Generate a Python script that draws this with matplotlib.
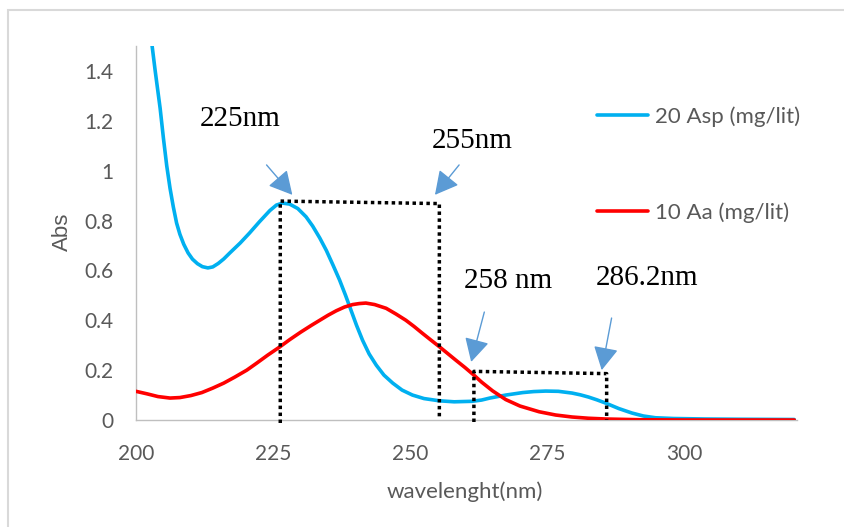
import matplotlib
matplotlib.use("Agg")
import matplotlib.pyplot as plt
from matplotlib.patches import Rectangle

# ---- data ----
x_blue = [202.6, 203.5, 204.4, 205.0, 205.6, 206.2, 206.8, 207.4, 208.0, 208.7, 209.5, 210.3,
          211.2, 212.1, 213.1, 214.0, 215.0, 216.0, 217.1, 219.0, 220.7, 222.5, 224.4, 225.6,
          226.7, 228.0, 229.5, 231.0, 232.2, 233.5, 234.7, 235.9, 237.1, 238.2, 239.2, 240.2,
          241.3, 242.5, 243.8, 245.2, 246.8, 248.5, 250.4, 252.5, 255.3, 258.0, 261.3, 263.0,
          264.5, 267.4, 270.5, 272.5, 274.7, 277.0, 279.5, 281.0, 282.5, 284.0, 285.6, 288.0,
          290.4, 292.5, 294.7, 298.0, 303.8, 310.0, 320.0]
y_blue = [1.56, 1.40, 1.25, 1.13, 1.02, 0.93, 0.855, 0.79, 0.745, 0.705, 0.67, 0.645,
          0.627, 0.615, 0.61, 0.614, 0.628, 0.646, 0.67, 0.71, 0.75, 0.795, 0.84, 0.862,
          0.87, 0.866, 0.848, 0.815, 0.778, 0.73, 0.68, 0.622, 0.562, 0.50, 0.44, 0.38,
          0.32, 0.265, 0.22, 0.18, 0.148, 0.12, 0.10, 0.086, 0.077, 0.073, 0.075, 0.08,
          0.088, 0.10, 0.11, 0.114, 0.116, 0.115, 0.108, 0.101, 0.092, 0.081, 0.068, 0.046,
          0.028, 0.016, 0.009, 0.006, 0.004, 0.003, 0.002]

x_red = [200, 202, 204, 206.2, 208, 210, 212, 214, 216, 218, 220.2, 222, 224, 226.2, 228, 230,
         232.0, 233.5, 235.0, 236.5, 238.0, 239.5, 240.7, 241.9, 243.5, 245.6, 247.4, 249.2,
         250.7, 252.2, 253.8, 255.3, 256.8, 258.3, 260.0, 261.6, 263.0, 265.0, 267.4, 270.0,
         273.5, 276.5, 279.5, 282.5, 285.6, 292, 300, 320]
y_red = [0.115, 0.105, 0.094, 0.088, 0.09, 0.098, 0.11, 0.128, 0.148, 0.172, 0.20, 0.228,
         0.26, 0.293, 0.322, 0.352, 0.38, 0.40, 0.42, 0.438, 0.453, 0.463, 0.467, 0.469,
         0.463, 0.448, 0.425, 0.40, 0.375, 0.348, 0.32, 0.294, 0.267, 0.24, 0.21, 0.18,
         0.152, 0.117, 0.082, 0.056, 0.033, 0.02, 0.012, 0.007, 0.004, 0.001, 0.0, 0.0]

series_labels = ["20 Asp (mg/lit)", "10 Aa (mg/lit)"]

guide1_x = [226.3, 226.3, 255.3, 255.3]
guide1_y = [-0.012, 0.878, 0.868, 0.01]
guide2_x = [261.6, 261.6, 285.8, 285.8]
guide2_y = [-0.008, 0.195, 0.186, 0.0]

peak_labels = ["225nm", "255nm", "258 nm", "286.2nm"]
label_pos = [(211.6, 1.179), (254.0, 1.091), (259.8, 0.529), (283.8, 0.541)]
arrow_tail = [(223.8, 1.023), (258.9, 1.023), (263.5, 0.433), (286.7, 0.409)]
arrow_head = [(228.5, 0.903), (254.5, 0.903), (261.1, 0.233), (284.9, 0.200)]

x_ticks = [200, 225, 250, 275, 300]
y_ticks = [0, 0.2, 0.4, 0.6, 0.8, 1.0, 1.2, 1.4]
y_ticklabels = ["0", "0.2", "0.4", "0.6", "0.8", "1", "1.2", "1.4"]

# ---- figure ----
W, H = 844, 527
fig = plt.figure(figsize=(W / 100, H / 100), dpi=100)
fig.patch.set_facecolor("white")
L, R, T, B = 136, 797, 46, 420
ax = fig.add_axes([L / W, 1 - B / H, (R - L) / W, (B - T) / H])

# outer chart frame
fig.patches.append(Rectangle((8 / W, -0.05), 1.2, (H - 10) / H + 0.05,
                             transform=fig.transFigure, fill=False,
                             ec="#d9d9d9", lw=1.5))

blue = "#00b0f0"
red = "#ff0000"
l1, = ax.plot(x_blue, y_blue, color=blue, lw=2.6, label=series_labels[0],
              solid_capstyle="round", solid_joinstyle="round", zorder=3)
l2, = ax.plot(x_red, y_red, color=red, lw=2.6, label=series_labels[1],
              solid_capstyle="round", solid_joinstyle="round", zorder=3)

for gx, gy in [(guide1_x, guide1_y), (guide2_x, guide2_y)]:
    ax.plot(gx, gy, color="black", lw=2.5, linestyle=(0, (1, 1)),
            dash_capstyle="butt", clip_on=False, zorder=4)

for txt, (tx, ty) in zip(peak_labels, label_pos):
    ax.text(tx, ty, txt, fontsize=21, family=["Liberation Serif", "DejaVu Serif"],
            ha="left", va="baseline", color="black", zorder=5)

for (x0, y0), (x1, y1) in zip(arrow_tail, arrow_head):
    ax.annotate("", xy=(x1, y1), xytext=(x0, y0),
                arrowprops=dict(arrowstyle="-|>,head_length=0.6,head_width=0.32",
                                color="#5b9bd5", lw=1.0, mutation_scale=24,
                                shrinkA=0, shrinkB=0), zorder=5)

ax.set_xlim(200, 320.5)
ax.set_ylim(0, 1.5)
ax.set_xticks(x_ticks)
ax.set_yticks(y_ticks)
ax.set_yticklabels(y_ticklabels)

tick_font = ["Lato", "DejaVu Sans"]
for lab in ax.get_xticklabels() + ax.get_yticklabels():
    lab.set_family(tick_font)
    lab.set_fontsize(15)
    lab.set_color("#595959")
ax.tick_params(axis="x", length=0, pad=17)
ax.tick_params(axis="y", length=0, pad=16)

for s in ["top", "right"]:
    ax.spines[s].set_visible(False)
for s in ["left", "bottom"]:
    ax.spines[s].set_color("#bfbfbf")
    ax.spines[s].set_linewidth(1.0)

ax.set_xlabel("wavelenght(nm)", fontsize=16, family=tick_font, color="#595959",
              va="center")
ax.xaxis.set_label_coords((465 - L) / (R - L), (B - 492) / (B - T))
ax.set_ylabel("Abs", fontsize=16, family=["Liberation Sans", "DejaVu Sans"],
              color="#595959", va="center")
ax.yaxis.set_label_coords((62 - L) / (R - L), (B - 232) / (B - T))

leg = ax.legend(handles=[l1, l2], loc="upper left",
                bbox_to_anchor=(597 / W, 1 - 106 / H),
                bbox_transform=fig.transFigure, frameon=False,
                borderpad=0, borderaxespad=0, handlelength=2.3,
                handletextpad=0.3, labelspacing=3.4,
                prop={"family": tick_font, "size": 16})
for t in leg.get_texts():
    t.set_color("#595959")

fig.savefig("out.png", dpi=100, facecolor="white")
